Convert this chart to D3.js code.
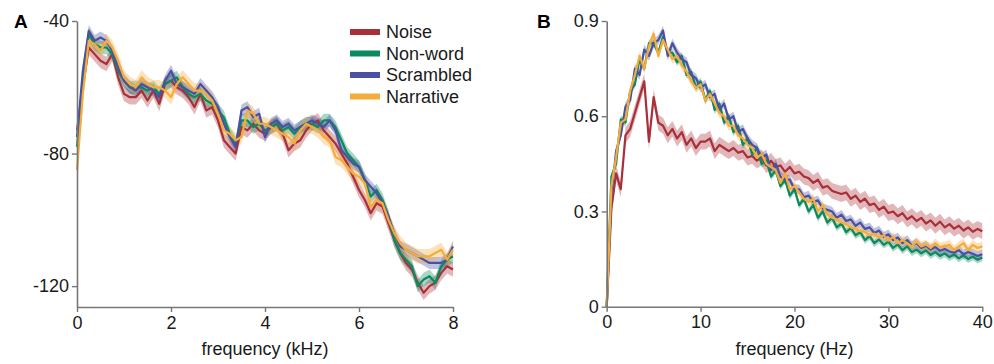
<!DOCTYPE html>
<html>
<head>
<meta charset="utf-8">
<script src="https://cdn.jsdelivr.net/npm/d3@7"></script>
<style>
  body { margin: 0; background: #fff; }
  svg { font-family: "Liberation Sans", Arial, sans-serif; }
</style>
</head>
<body>
<svg id="chart" width="994" height="364"></svg>
<script>
// Conditions
const conditions = ["Noise", "Non-word", "Scrambled", "Narrative"];
const colors = ["#a8303a", "#0b8a5e", "#4a51a3", "#f6ac3b"];

// Panel A: spectrum (dB) sampled every 0.125 kHz, 0..8 kHz
const stepA = 0.125;
const noiseA = [-73,-60,-48,-50,-52,-53,-50,-57,-62,-63,-63,-61,-64,-61,-65,-59,-58,-60,-61,-63,-66,-62,-67,-66,-70,-76,-78,-80,-72,-73,-71,-73,-74,-72,-71,-74,-79,-77,-76,-73,-71,-70,-73,-75,-77,-80,-83,-87,-91,-94,-98,-95,-96,-101,-106,-110,-113,-115,-119,-122,-120,-119,-116,-114,-115];
const nonwordA = [-78,-58,-44,-47,-48,-48,-50,-55,-58,-60,-60,-60,-61,-60,-62,-59,-58,-57,-60,-62,-63,-62,-64,-65,-67,-69,-74,-77,-70,-70,-72,-71,-73,-72,-71,-73,-72,-74,-72,-71,-71,-72,-70,-70,-72,-76,-80,-82,-84,-88,-93,-91,-94,-99,-106,-110,-112,-114,-120,-118,-117,-119,-114,-112,-111];
const scrambledA = [-75,-55,-43,-46,-45,-46,-49,-54,-58,-60,-61,-59,-60,-61,-63,-58,-55,-59,-60,-61,-62,-59,-61,-63,-66,-71,-75,-78,-67,-66,-69,-68,-75,-71,-70,-72,-71,-73,-72,-71,-70,-71,-72,-70,-73,-79,-81,-83,-84,-88,-90,-92,-95,-99,-104,-108,-109,-110,-111,-112,-113,-113,-113,-112,-108];
const narrativeA = [-85,-62,-46,-47,-49,-46,-48,-52,-57,-59,-60,-57,-59,-60,-60,-61,-63,-59,-57,-59,-61,-61,-62,-64,-68,-73,-74,-76,-75,-67,-68,-71,-71,-72,-73,-74,-75,-77,-73,-71,-72,-73,-75,-76,-81,-82,-84,-86,-87,-89,-96,-94,-95,-100,-104,-107,-109,-110,-111,-111,-111,-110,-109,-112,-109];
const semA = [2.2, 2.0, 1.8, 2.2];
const ticksA_x = [0, 2, 4, 6, 8];
const ticksA_y = [-120, -80, -40];

// Panel B: modulation spectrum sampled every 0.5 Hz, 0..40 Hz
const stepB = 0.5;
const noiseB = [0,0.31,0.42,0.37,0.54,0.56,0.61,0.66,0.71,0.52,0.66,
  0.58,0.57,0.54,0.56,0.53,0.55,0.51,0.53,0.50,0.52,
  0.52,0.53,0.49,0.51,0.50,0.49,0.50,0.485,0.49,0.47,
  0.475,0.46,0.47,0.445,0.46,0.44,0.445,0.425,0.44,0.42,
  0.425,0.41,0.405,0.39,0.40,0.375,0.38,0.365,0.36,0.355,
  0.36,0.34,0.35,0.33,0.34,0.32,0.325,0.305,0.315,0.295,
  0.30,0.285,0.295,0.275,0.285,0.27,0.28,0.262,0.272,0.255,
  0.268,0.25,0.26,0.246,0.255,0.24,0.25,0.236,0.245,0.238];
const nonwordB = [0,0.41,0.45,0.59,0.58,0.68,0.70,0.78,0.75,0.83,0.83,
  0.80,0.85,0.80,0.80,0.77,0.79,0.73,0.74,0.69,0.71,
  0.65,0.68,0.62,0.64,0.58,0.60,0.55,0.57,0.51,0.53,
  0.48,0.50,0.45,0.46,0.41,0.43,0.38,0.40,0.35,0.37,
  0.32,0.34,0.30,0.32,0.28,0.30,0.265,0.28,0.25,0.262,
  0.235,0.248,0.225,0.235,0.21,0.222,0.2,0.212,0.195,0.205,
  0.185,0.196,0.178,0.19,0.172,0.18,0.168,0.177,0.163,0.172,
  0.16,0.168,0.156,0.165,0.152,0.162,0.15,0.158,0.148,0.155];
const scrambledB = [0,0.35,0.49,0.54,0.63,0.65,0.75,0.73,0.81,0.79,0.83,
  0.84,0.87,0.79,0.83,0.80,0.78,0.77,0.73,0.72,0.69,
  0.70,0.66,0.67,0.62,0.64,0.59,0.60,0.55,0.56,0.53,
  0.51,0.50,0.47,0.48,0.43,0.45,0.41,0.40,0.40,0.37,
  0.37,0.345,0.35,0.33,0.335,0.31,0.305,0.30,0.28,0.29,
  0.27,0.275,0.255,0.265,0.245,0.25,0.232,0.24,0.22,0.228,
  0.21,0.218,0.2,0.21,0.192,0.2,0.185,0.192,0.18,0.188,
  0.176,0.182,0.174,0.17,0.178,0.165,0.172,0.167,0.16,0.165];
const narrativeB = [0,0.38,0.47,0.58,0.59,0.68,0.73,0.79,0.75,0.82,0.86,
  0.79,0.84,0.81,0.78,0.79,0.76,0.74,0.71,0.69,0.70,
  0.65,0.67,0.64,0.61,0.60,0.57,0.57,0.54,0.53,0.51,
  0.50,0.47,0.48,0.45,0.44,0.43,0.39,0.42,0.37,0.38,
  0.36,0.34,0.33,0.34,0.30,0.32,0.29,0.28,0.275,0.265,
  0.26,0.25,0.245,0.238,0.236,0.225,0.23,0.218,0.225,0.208,
  0.22,0.2,0.21,0.2,0.19,0.205,0.19,0.196,0.185,0.2,
  0.187,0.19,0.195,0.178,0.19,0.2,0.178,0.195,0.185,0.19];
const semB = [0.025, 0.012, 0.015, 0.015];
const ticksB_x = [0, 10, 20, 30, 40];
const ticksB_y = [0, 0.3, 0.6, 0.9];

const svg = d3.select("#chart");
const axisColor = "#777";
const textColor = "#1a1a1a";

function panel(opts) {
  const { series, sem, step, xDomain, yDomain, xRange, yRange, xTicks, yTicks, xTitle, letter, letterX, yFormat } = opts;
  const x = d3.scaleLinear().domain(xDomain).range(xRange);
  const y = d3.scaleLinear().domain(yDomain).range(yRange);
  const g = svg.append("g");

  const bands = g.append("g");
  const lines = g.append("g");

  series.forEach((vals, k) => {
    const area = d3.area()
      .x((d, i) => x(i * step))
      .y0(d => y(d - sem[k]))
      .y1(d => y(d + sem[k]));
    bands.append("path")
      .datum(vals)
      .attr("d", area)
      .attr("fill", colors[k])
      .attr("fill-opacity", 0.35);

    const line = d3.line()
      .x((d, i) => x(i * step))
      .y(d => y(d));
    lines.append("path")
      .datum(vals)
      .attr("d", line)
      .attr("fill", "none")
      .attr("stroke", colors[k])
      .attr("stroke-width", 2.2)
      .attr("stroke-linejoin", "round");
  });

  const xAxis = g.append("g")
    .attr("transform", `translate(0,${yRange[0]})`)
    .call(d3.axisBottom(x).tickValues(xTicks).tickSize(5).tickSizeOuter(0).tickPadding(4));
  const yAxis = g.append("g")
    .attr("transform", `translate(${xRange[0]},0)`)
    .call(d3.axisLeft(y).tickValues(yTicks).tickFormat(yFormat).tickSize(5).tickSizeOuter(0).tickPadding(3));

  [xAxis, yAxis].forEach(a => {
    a.select(".domain").attr("stroke", axisColor).attr("stroke-width", 1.6);
    a.selectAll(".tick line").attr("stroke", axisColor).attr("stroke-width", 1.4);
    a.selectAll(".tick text").attr("fill", textColor).style("font-size", "18px");
  });

  g.append("text")
    .attr("x", (xRange[0] + xRange[1]) / 2)
    .attr("y", 355)
    .attr("text-anchor", "middle")
    .attr("fill", textColor)
    .style("font-size", "18px")
    .text(xTitle);

  g.append("text")
    .attr("x", letterX)
    .attr("y", 28)
    .attr("fill", "#000")
    .style("font-size", "19px")
    .style("font-weight", "bold")
    .text(letter);
}

panel({
  series: [noiseA, nonwordA, scrambledA, narrativeA],
  sem: semA, step: stepA,
  xDomain: [0, 8], yDomain: [-126.3, -40],
  xRange: [77, 453], yRange: [307, 21],
  xTicks: ticksA_x, yTicks: ticksA_y,
  yFormat: d => String(d),
  xTitle: "frequency (kHz)", letter: "A", letterX: 14
});

panel({
  series: [noiseB, nonwordB, scrambledB, narrativeB],
  sem: semB, step: stepB,
  xDomain: [0, 40], yDomain: [0, 0.9],
  xRange: [606.7, 982.3], yRange: [306.7, 21],
  xTicks: ticksB_x, yTicks: ticksB_y,
  yFormat: d => d === 0 ? "0" : d3.format(".1f")(d),
  xTitle: "frequency (Hz)", letter: "B", letterX: 537
});

// Legend
const legend = svg.append("g").attr("transform", "translate(350,32)");
conditions.forEach((name, k) => {
  const row = legend.append("g").attr("transform", `translate(0,${k * 21.5})`);
  row.append("line")
    .attr("x1", 0).attr("x2", 30)
    .attr("stroke", colors[k]).attr("stroke-width", 6);
  row.append("text")
    .attr("x", 36).attr("dy", "0.35em")
    .attr("fill", textColor)
    .style("font-size", "18px")
    .text(name);
});
</script>
</body>
</html>
